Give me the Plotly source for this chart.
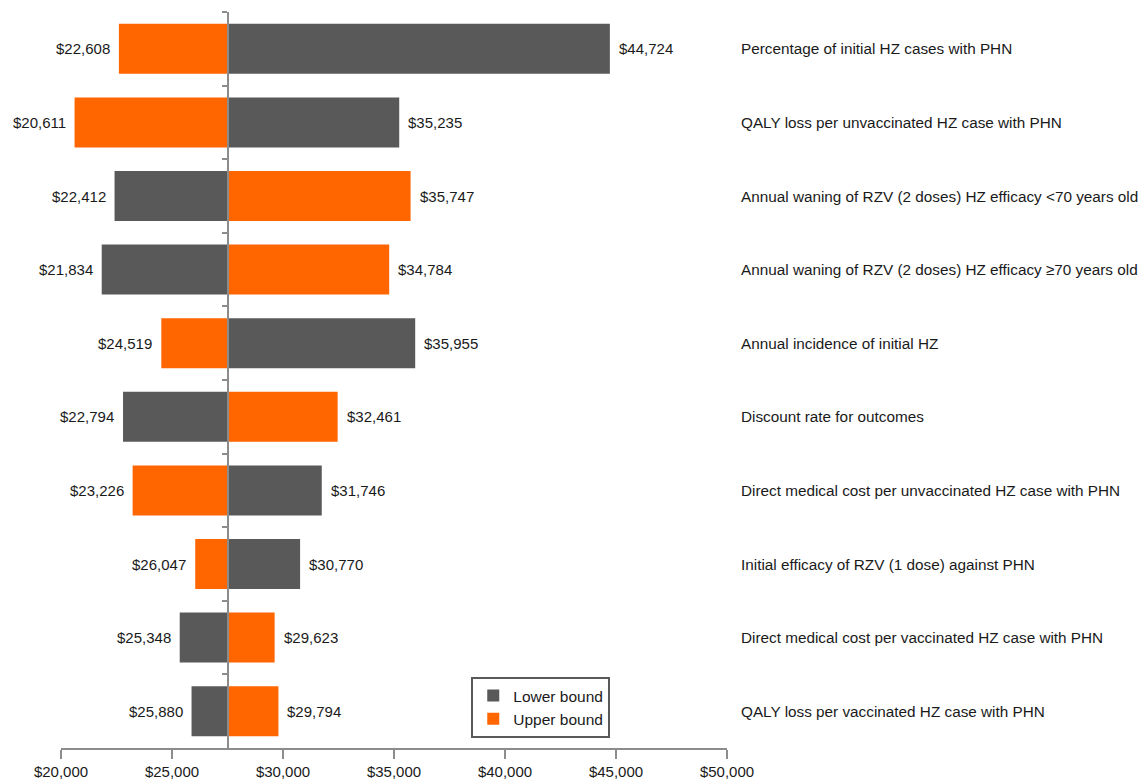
import plotly.graph_objects as go

categories = [
    "Percentage of initial HZ cases with PHN",
    "QALY loss per unvaccinated HZ case with PHN",
    "Annual waning of RZV (2 doses) HZ efficacy <70 years old",
    "Annual waning of RZV (2 doses) HZ efficacy ≥70 years old",
    "Annual incidence of initial HZ",
    "Discount rate for outcomes",
    "Direct medical cost per unvaccinated HZ case with PHN",
    "Initial efficacy of RZV (1 dose) against PHN",
    "Direct medical cost per vaccinated HZ case with PHN",
    "QALY loss per vaccinated HZ case with PHN",
]
lower_bound = [44724, 35235, 22412, 21834, 35955, 22794, 31746, 30770, 25348, 25880]
upper_bound = [22608, 20611, 35747, 34784, 24519, 32461, 23226, 26047, 29623, 29794]
base_value = 27500
x_ticks = [20000, 25000, 30000, 35000, 40000, 45000, 50000]
x_tick_labels = ["$20,000", "$25,000", "$30,000", "$35,000", "$40,000", "$45,000", "$50,000"]

GRAY = "#595959"
ORANGE = "#FF6600"
AXIS = "#8c8c8c"
TEXT = "#1a1a1a"
FONT = "Liberation Sans"

fig = go.Figure()
fig.add_trace(go.Bar(
    name="Lower bound", y=categories, x=[v - base_value for v in lower_bound],
    base=base_value, orientation="h", marker=dict(color=GRAY, line=dict(width=0)),
))
fig.add_trace(go.Bar(
    name="Upper bound", y=categories, x=[v - base_value for v in upper_bound],
    base=base_value, orientation="h", marker=dict(color=ORANGE, line=dict(width=0)),
))

annotations = []
for cat, lo, up in zip(categories, lower_bound, upper_bound):
    for v in (lo, up):
        right = v > base_value
        annotations.append(dict(
            x=v, y=cat, xref="x", yref="y", text=f"${v:,}", showarrow=False,
            xanchor="left" if right else "right", xshift=7 if right else -7,
            font=dict(family=FONT, size=15, color=TEXT),
        ))
    annotations.append(dict(
        x=1.018, y=cat, xref="paper", yref="y", text=cat, showarrow=False,
        xanchor="left", font=dict(family=FONT, size=15.3, color=TEXT),
    ))

fig.update_layout(
    width=1143, height=779,
    margin=dict(l=61, r=416, t=12, b=31, autoexpand=False),
    paper_bgcolor="white", plot_bgcolor="white",
    barmode="overlay", bargap=0.32,
    font=dict(family=FONT, size=15, color=TEXT),
    annotations=annotations,
    showlegend=True,
    legend=dict(
        x=0.616, y=0.0965, xanchor="left", yanchor="top",
        bgcolor="white", bordercolor=GRAY, borderwidth=2,
        font=dict(family=FONT, size=15.5, color=TEXT),
        traceorder="normal", itemwidth=30,
    ),
    xaxis=dict(
        range=[20000, 50000], tickvals=x_ticks, ticktext=x_tick_labels,
        showgrid=False, zeroline=False, showline=True, linecolor=AXIS, linewidth=1.5,
        ticks="outside", ticklen=9, tickcolor=AXIS, tickwidth=1.5, automargin=False,
        tickfont=dict(family=FONT, size=15, color=TEXT),
    ),
    yaxis=dict(
        type="category", categoryorder="array", categoryarray=categories,
        autorange="reversed", anchor="free", position=(base_value - 20000) / 30000,
        showgrid=False, zeroline=False, showline=True, linecolor=AXIS, linewidth=1.5,
        ticks="outside", tickson="boundaries", ticklen=5, tickcolor=AXIS, tickwidth=1.5,
        showticklabels=False, automargin=False,
    ),
)

fig.write_html(
    "out.html",
    config={"displayModeBar": False},
    post_script="document.body.style.margin='0';document.body.style.overflow='hidden';",
)
